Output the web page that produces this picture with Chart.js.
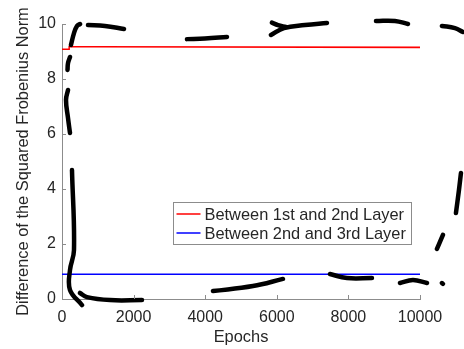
<!DOCTYPE html>
<html>
<head>
<meta charset="utf-8">
<script src="https://cdn.jsdelivr.net/npm/chart.js@4"></script>
<style>
  html, body { margin: 0; padding: 0; background: #fff; }
  #wrap { width: 464px; height: 349px; }
</style>
</head>
<body>
<div id="wrap"><canvas id="normChart" width="464" height="349"></canvas></div>
<script>
const seriesLabels = ['Between 1st and 2nd Layer', 'Between 2nd and 3rd Layer'];
const xTicks = [0, 2000, 4000, 6000, 8000, 10000];
const yTicks = [0, 2, 4, 6, 8, 10];

const redEpochs = [0, 200, 200, 900, 10000];
const redValues = [9.08, 9.08, 9.17, 9.17, 9.15];
const blueEpochs = [0, 10000];
const blueValues = [0.9, 0.9];

// hand drawn dashed box on top of the figure, read in data units (null = pen lifted)
const scribbleEpochs = [
  154, 168, 223, null,
  251, 335, 419, 503, null,
  726, 1201, 1732, null,
  3491, 3994, 4608, null,
  5865, 6033, 6256, null,
  5837, 6200, 6787, 7401, null,
  8770, 9301, 9664, null,
  10613, 10976, 11200, null,
  11144, 11088, 11004, null,
  10641, 10474, null,
  10613, 10640, null,
  9441, 9804, 10195, null,
  7485, 7960, 8658, null,
  4217, 5335, 6172, null,
  503, 698, 1341, 2234, null,
  279, 335, 223, 223, 559, null,
  168, 112, 168, 223
];
const scribbleValues = [
  8.33, 8.58, 8.80, null,
  9.24, 9.67, 9.93, 10.0, null,
  9.96, 9.93, 9.82, null,
  9.45, 9.47, 9.53, null,
  10.05, 9.96, 9.89, null,
  9.6, 9.85, 9.96, 10.04, null,
  10.11, 10.11, 10.0, null,
  9.93, 9.85, 9.71, null,
  4.58, 3.96, 3.13, null,
  2.33, 1.82, null,
  0.58, 0.55, null,
  0.58, 0.69, 0.58, null,
  0.91, 0.76, 0.76, null,
  0.29, 0.47, 0.73, null,
  0.22, 0.07, -0.04, -0.04, null,
  4.69, 1.78, 1.05, 0.33, -0.22, null,
  7.6, 7.24, 6.58, 6.04
];

const FONT = '"Liberation Sans", Arial, Helvetica, sans-serif';
const TEXT = '#262626';
const AXIS = '#8c8c8c';

const toPoints = (xs, ys) => xs.map((x, i) => ({ x: x === null ? 0 : x, y: ys[i] }));

// MATLAB style ticks pointing into the plot
const innerTicks = {
  id: 'innerTicks',
  afterDatasetsDraw(chart) {
    const { ctx, chartArea, scales } = chart;
    ctx.save();
    ctx.strokeStyle = AXIS;
    ctx.lineWidth = 1;
    ctx.beginPath();
    xTicks.forEach(v => {
      const px = Math.round(scales.x.getPixelForValue(v)) + 0.5;
      ctx.moveTo(px, chartArea.bottom);
      ctx.lineTo(px, chartArea.bottom - 4);
    });
    yTicks.forEach(v => {
      const py = Math.round(scales.y.getPixelForValue(v)) + 0.5;
      ctx.moveTo(chartArea.left, py);
      ctx.lineTo(chartArea.left + 4, py);
    });
    ctx.stroke();
    ctx.restore();
  }
};

// legend box inside the axes
const insideLegend = {
  id: 'insideLegend',
  afterDatasetsDraw(chart) {
    const { ctx } = chart;
    const box = { left: 173.5, top: 202.5, width: 238, height: 42 };
    ctx.save();
    ctx.fillStyle = '#fff';
    ctx.fillRect(box.left, box.top, box.width, box.height);
    ctx.strokeStyle = AXIS;
    ctx.lineWidth = 1;
    ctx.strokeRect(box.left, box.top, box.width, box.height);
    ctx.font = '16.4px ' + FONT;
    ctx.textBaseline = 'middle';
    ctx.textAlign = 'left';
    seriesLabels.forEach((label, i) => {
      const ds = chart.data.datasets[i + 1];
      const y = box.top + 11.5 + i * 19;
      ctx.strokeStyle = ds.borderColor;
      ctx.lineWidth = 1.5;
      ctx.beginPath();
      ctx.moveTo(box.left + 3, y);
      ctx.lineTo(box.left + 27, y);
      ctx.stroke();
      ctx.fillStyle = TEXT;
      ctx.fillText(label, box.left + 31, y + 1);
    });
    ctx.restore();
  }
};

const ctx = document.getElementById('normChart').getContext('2d');
new Chart(ctx, {
  type: 'line',
  data: {
    datasets: [
      {
        label: 'scribble',
        data: toPoints(scribbleEpochs, scribbleValues),
        borderColor: '#000',
        borderWidth: 4.5,
        borderCapStyle: 'round',
        borderJoinStyle: 'round',
        tension: 0.4,
        spanGaps: false,
        clip: false,
        pointRadius: 0,
        order: 0
      },
      {
        label: seriesLabels[0],
        data: toPoints(redEpochs, redValues),
        borderColor: '#ff0000',
        borderWidth: 1.5,
        pointRadius: 0,
        tension: 0,
        order: 1
      },
      {
        label: seriesLabels[1],
        data: toPoints(blueEpochs, blueValues),
        borderColor: '#0000ff',
        borderWidth: 1.5,
        pointRadius: 0,
        tension: 0,
        order: 2
      }
    ]
  },
  options: {
    responsive: false,
    animation: false,
    layout: { padding: { top: 24, right: 44, left: 0, bottom: 0 } },
    plugins: {
      legend: { display: false },
      tooltip: { enabled: false }
    },
    scales: {
      x: {
        type: 'linear',
        min: 0,
        max: 10000,
        afterFit: s => { s.height = 50; },
        afterBuildTicks: s => { s.ticks = xTicks.map(v => ({ value: v })); },
        grid: { display: true, drawOnChartArea: false, drawTicks: false },
        border: { display: true, color: AXIS, width: 1 },
        ticks: {
          padding: 9,
          color: TEXT,
          font: { family: FONT, size: 16 },
          maxRotation: 0,
          callback: v => String(v)
        },
        title: {
          display: true,
          text: 'Epochs',
          color: TEXT,
          font: { family: FONT, size: 16.4 },
          padding: { top: 0, bottom: 2 }
        }
      },
      y: {
        type: 'linear',
        min: 0,
        max: 10,
        afterFit: s => { s.width = 62; },
        afterBuildTicks: s => { s.ticks = yTicks.map(v => ({ value: v })); },
        grid: { display: true, drawOnChartArea: false, drawTicks: false },
        border: { display: true, color: AXIS, width: 1 },
        ticks: {
          padding: 6,
          color: TEXT,
          font: { family: FONT, size: 16 }
        },
        title: {
          display: true,
          text: 'Difference of the Squared Frobenius Norm',
          color: TEXT,
          font: { family: FONT, size: 16.4 },
          padding: { top: 14, bottom: 0 }
        }
      }
    }
  },
  plugins: [innerTicks, insideLegend]
});
</script>
</body>
</html>
